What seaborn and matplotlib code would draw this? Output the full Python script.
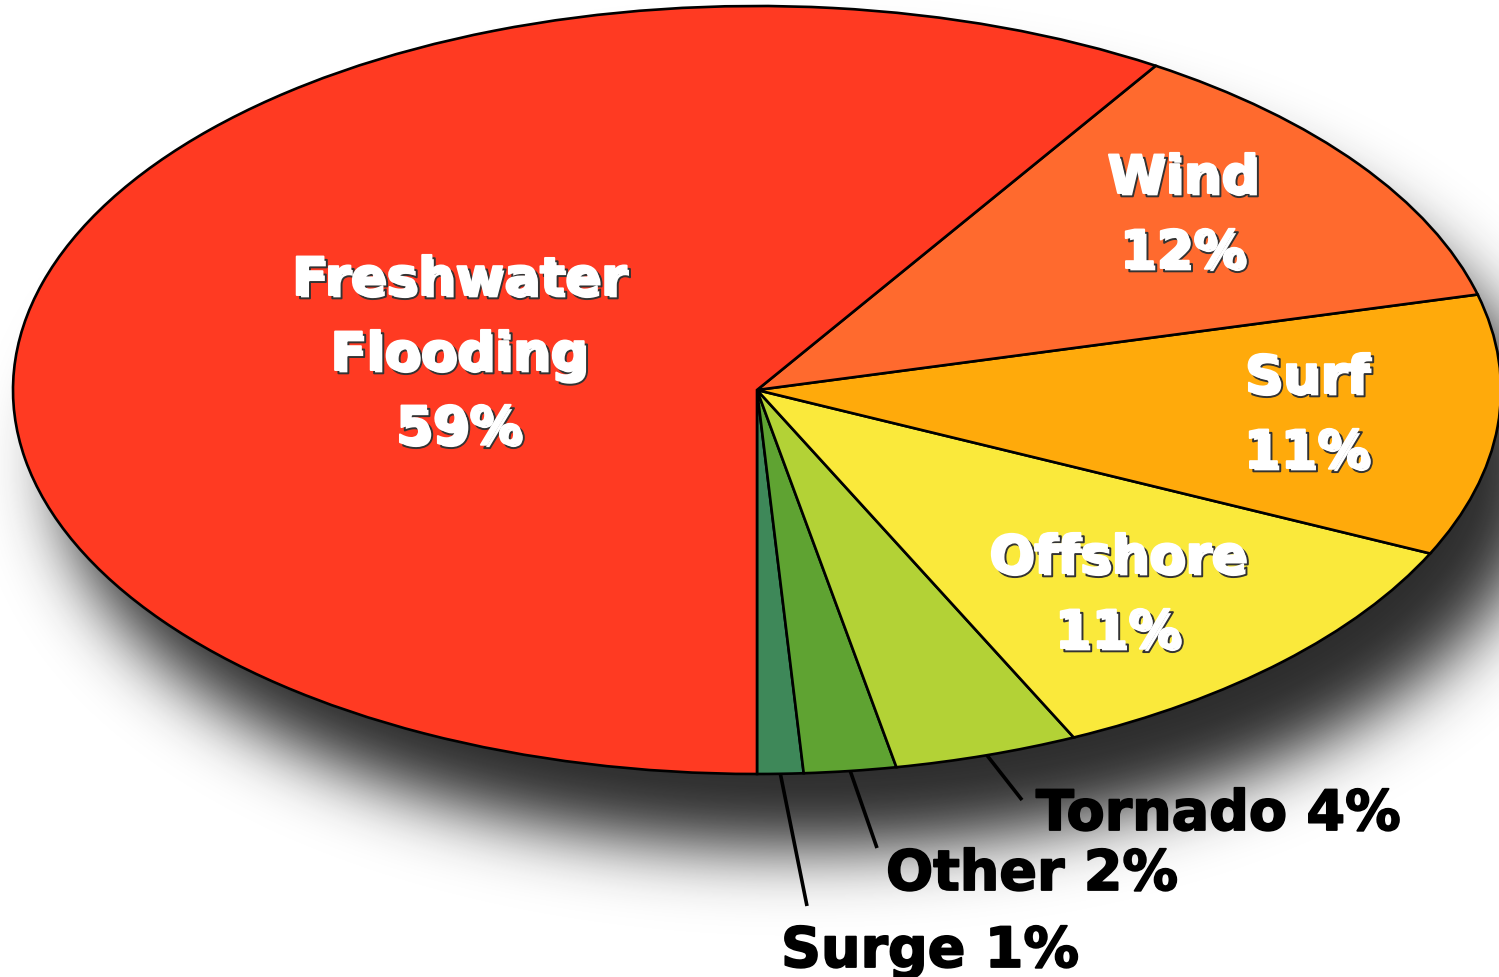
import numpy as np
import matplotlib
matplotlib.use("Agg")
import matplotlib.pyplot as plt
import matplotlib.patheffects as pe
import seaborn as sns

# Hurricane-related fatalities by cause
categories = ["Surge", "Other", "Tornado", "Offshore", "Surf", "Wind", "Freshwater Flooding"]
values = [1, 2, 4, 11, 11, 12, 59]
slice_colors = ["#3E8859", "#5FA332", "#B3D236", "#FAE93B", "#FFAA0B", "#FF6A2E", "#FF3A22"]

# Labels drawn inside the large slices (text lines, centre x, baselines in px)
inside_labels = {
    "Freshwater Flooding": (["Freshwater", "Flooding"], 459, [296, 371, 445]),
    "Wind": (["Wind"], 1183, [194, 269]),
    "Surf": (["Surf"], 1307, [394, 469]),
    "Offshore": (["Offshore"], 1118, [574, 649]),
}
# Labels outside the thin slices (left x, baseline, leader line end in px)
outside_labels = {
    "Tornado": (1036, 831, (1022, 801)),
    "Other": (886, 891, (877, 849)),
    "Surge": (781, 968, (807, 907)),
}

W, H, DPI = 1499, 978, 100
CX, CY, RX, RY = 757, 391, 744, 384   # pie centre and half-axes in pixels


def to_data(px, py):
    return (px - CX) / RX, (CY - py) / RY


sns.set_theme(style="white")
plt.rcParams["font.family"] = ["DejaVu Sans"]

fig = plt.figure(figsize=(W / DPI, H / DPI), dpi=DPI)
fig.patch.set_facecolor("white")
ax = fig.add_axes([0, 0, 1, 1])
ax.set_facecolor("none")

xlim = (-CX / RX, (W - CX) / RX)
ylim = ((CY - H) / RY, CY / RY)

# Soft drop shadow under the pie: offset ellipse blurred in the frequency domain
pad = 220
yy, xx = np.mgrid[0:H + 2 * pad, 0:W + 2 * pad].astype(float)
sx, sy = CX + 45 + pad, CY + 75 + pad
mask = (((xx - sx) / RX) ** 2 + ((yy - sy) / RY) ** 2 <= 1.0).astype(float)
sigma = 33.0
fy = np.fft.fftfreq(mask.shape[0])[:, None]
fx = np.fft.rfftfreq(mask.shape[1])[None, :]
kernel = np.exp(-2 * np.pi ** 2 * sigma ** 2 * (fx ** 2 + fy ** 2))
blurred = np.fft.irfft2(np.fft.rfft2(mask) * kernel, s=mask.shape)
blurred = np.clip(blurred[pad:pad + H, pad:pad + W], 0, 1)
shadow = np.zeros((H, W, 4))
shadow[..., :3] = 0.1
shadow[..., 3] = 0.92 * blurred
ax.imshow(shadow, extent=(xlim[0], xlim[1], ylim[0], ylim[1]), origin="upper",
          aspect="auto", zorder=0, interpolation="bilinear")

wedges, _ = ax.pie(values, colors=slice_colors, startangle=-90, counterclock=True,
                   radius=1.0, center=(0, 0),
                   wedgeprops=dict(edgecolor="black", linewidth=1.9, zorder=2))

shadow_off = (2.4, -2.4)
inner_fx = [pe.SimplePatchShadow(offset=shadow_off, shadow_rgbFace="#333333", alpha=1.0),
            pe.Stroke(offset=shadow_off, linewidth=1.4, foreground="#333333"),
            pe.Stroke(linewidth=1.4, foreground="white"),
            pe.Normal()]
outer_fx = [pe.Stroke(linewidth=1.3, foreground="black"), pe.Normal()]

for name, val, wedge in zip(categories, values, wedges):
    if name in inside_labels:
        lines, cx, baselines = inside_labels[name]
        lines = lines + [f"{val}%"]
        for line, by in zip(lines, baselines):
            x, y = to_data(cx, by)
            ax.text(x, y, line, ha="center", va="baseline", fontsize=38,
                    fontweight="bold", color="white", path_effects=inner_fx, zorder=5)
    else:
        lx, by, (ex, ey) = outside_labels[name]
        mid = np.deg2rad((wedge.theta1 + wedge.theta2) / 2)
        x0, y0 = np.cos(mid), np.sin(mid)
        x1, y1 = to_data(ex, ey)
        ax.plot([x0, x1], [y0, y1], color="black", lw=2.6, solid_capstyle="butt", zorder=4)
        x, y = to_data(lx, by)
        ax.text(x, y, f"{name} {val}%", ha="left", va="baseline", fontsize=40,
                fontweight="bold", color="black", path_effects=outer_fx, zorder=5)

ax.set_aspect("auto")
ax.set_xlim(*xlim)
ax.set_ylim(*ylim)
ax.axis("off")

fig.savefig("out.png", dpi=DPI, facecolor="white")
